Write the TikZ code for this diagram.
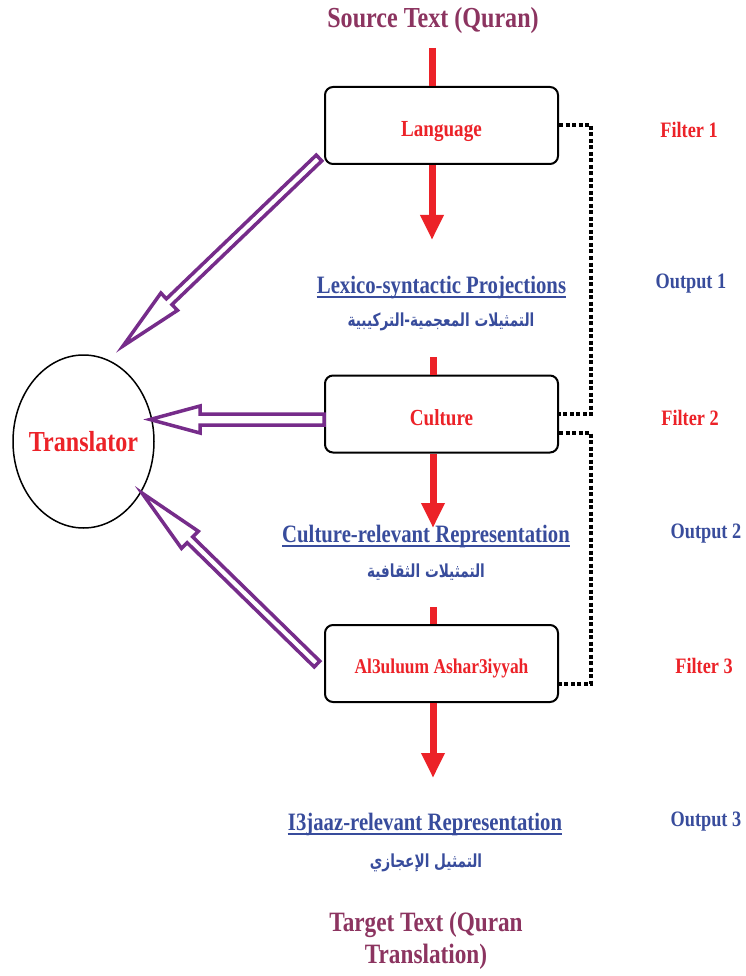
\documentclass[tikz,border=0pt]{standalone}
\usepackage{fontspec}
\setmainfont{Liberation Serif}[FakeStretch=0.83]
\newfontfamily\arabicfont[Script=Arabic,FakeStretch=0.76]{DejaVu Sans}
\TeXXeTstate=1
\usetikzlibrary{arrows.meta,calc,shapes.geometric}
\definecolor{srcmaroon}{RGB}{140,52,96}
\definecolor{fred}{RGB}{236,34,40}
\definecolor{oblue}{RGB}{56,76,156}
\definecolor{apurple}{RGB}{118,44,138}
\tikzset{
 filterbox/.style={draw=black, line width=2pt, rounded corners=8pt, minimum width=233pt, minimum height=77pt, inner sep=0pt, text height=22pt, text depth=0pt, font=\fontsize{23}{26}\selectfont\bfseries, text=fred},
 redline/.style={draw=fred, line width=7pt},
 redarrow/.style={redline, -{Triangle[width=22pt,length=25pt]}},
 dotline/.style={draw=black, line width=4pt, dash pattern=on 4pt off 2.5pt},
 hollow/.style={draw=apurple, line width=3.5pt, fill=white, line join=miter},
 outtext/.style={text=oblue, font=\fontsize{25}{28}\selectfont\bfseries, inner sep=0pt, anchor=base},
 arabtext/.style={text=oblue, font=\arabicfont\bfseries\fontsize{18}{22}\selectfont, inner sep=0pt},
 sidefilter/.style={text=fred, font=\fontsize{22}{24}\selectfont\bfseries, inner sep=0pt},
 sideoutput/.style={text=oblue, font=\fontsize{22}{24}\selectfont\bfseries, inner sep=0pt},
 titletext/.style={text=srcmaroon, font=\fontsize{29}{32}\selectfont\bfseries, inner sep=0pt, anchor=base},
 ulline/.style={draw=oblue, line width=2.5pt},
}
\newcommand\hollowarrow[5]{%
 \coordinate (hab) at ($(#2)!#4!(#1)$);
 \draw[hollow] ($(#1)!#3!90:(#2)$) -- ($(hab)!#3!90:(#2)$) -- ($(hab)!#5!90:(#2)$) -- (#2) -- ($(hab)!#5!-90:(#2)$) -- ($(hab)!#3!-90:(#2)$) -- ($(#1)!#3!-90:(#2)$) -- cycle;}
\begin{document}
\begin{tikzpicture}[x=1pt,y=-1pt]
\useasboundingbox (0,0) rectangle (746,976);
\fill[white] (0,0) rectangle (746,976);

% title
\node[titletext] (src) at (433,28) {Source Text (Quran)};

% filter boxes
\node[filterbox] (lang) at (441.5,125.5) {Language};
\node[filterbox] (cult) at (441.5,414) {Culture};
\node[filterbox, font=\fontsize{21}{24}\selectfont\bfseries, text height=20pt] (alu) at (441.5,663.5) {Al3uluum Ashar3iyyah};

% outputs
\node[outtext] (lex) at (441.5,293) {Lexico-syntactic Projections};
\draw[ulline] ([yshift=-4pt]lex.base west) -- ([yshift=-4pt]lex.base east);
\node[arabtext] (lexar) at (441,322) {\beginR التمثيلات المعجمية-التركيبية\endR};

\node[outtext] (curep) at (426,542) {Culture-relevant Representation};
\draw[ulline] ([yshift=-4pt]curep.base west) -- ([yshift=-4pt]curep.base east);
\node[arabtext] (curar) at (426,572) {\beginR التمثيلات الثقافية\endR};

\node[outtext] (ijrep) at (425,830) {I3jaaz-relevant Representation};
\draw[ulline] ([yshift=-4pt]ijrep.base west) -- ([yshift=-4pt]ijrep.base east);
\node[arabtext] (ijar) at (426,863) {\beginR التمثيل الإعجازي\endR};

% target
\node[titletext, font=\fontsize{28}{32}\selectfont\bfseries] (tgt1) at (426,931) {Target Text (Quran};
\node[titletext, font=\fontsize{28}{32}\selectfont\bfseries] (tgt2) at (426,963) {Translation)};

% side labels
\node[sidefilter] (f1) at (689,130) {Filter 1};
\node[sideoutput] (o1) at (691,284) {Output 1};
\node[sidefilter] (f2) at (690,418) {Filter 2};
\node[sideoutput] (o2) at (706,534) {Output 2};
\node[sidefilter] (f3) at (704,666) {Filter 3};
\node[sideoutput] (o3) at (706,822) {Output 3};

% red flow
\coordinate (stub1) at (432,48);
\draw[redline] (stub1) -- (stub1 |- lang.north);
\coordinate (tip1) at (432,240);
\draw[redarrow] (tip1 |- lang.south) -- (tip1);
\coordinate (stub2) at (433,357);
\draw[redline] (stub2) -- (stub2 |- cult.north);
\coordinate (tip2) at (433,528);
\draw[redarrow] (tip2 |- cult.south) -- (tip2);
\coordinate (stub3) at (433,607);
\draw[redline] (stub3) -- (stub3 |- alu.north);
\coordinate (tip3) at (433,778);
\draw[redarrow] (tip3 |- alu.south) -- (tip3);

% dotted feedback lines
\draw[dotline] (lang.east) -- ++(32,0) |- (cult.east);
\draw[dotline] ([yshift=-19pt]cult.east) -- ++(32,0) |- ([yshift=-20pt]alu.east);

% translator
\node[draw=black, line width=1.5pt, ellipse, minimum width=141pt, minimum height=173pt, inner sep=0pt] (trans) at (83.5,441.5) {};
\node[text=fred, font=\fontsize{29}{32}\selectfont\bfseries, inner sep=0pt] (translabel) at (trans.center) {Translator};

% hollow arrows
\coordinate (ta1) at ($(lang.south west)+(-5,-7)$);
\coordinate (hd1) at (123,346);
\hollowarrow{ta1}{hd1}{4pt}{64pt}{12pt}
\coordinate (ta2) at ($(cult.west)+(0,5.5)$);
\coordinate (hd2) at (150,419.5);
\hollowarrow{ta2}{hd2}{5.5pt}{50pt}{13.5pt}
\coordinate (ta3) at ($(alu.west)+(-7,0.5)$);
\coordinate (hd3) at (142,493);
\hollowarrow{ta3}{hd3}{4pt}{67pt}{12pt}
\end{tikzpicture}
\end{document}
